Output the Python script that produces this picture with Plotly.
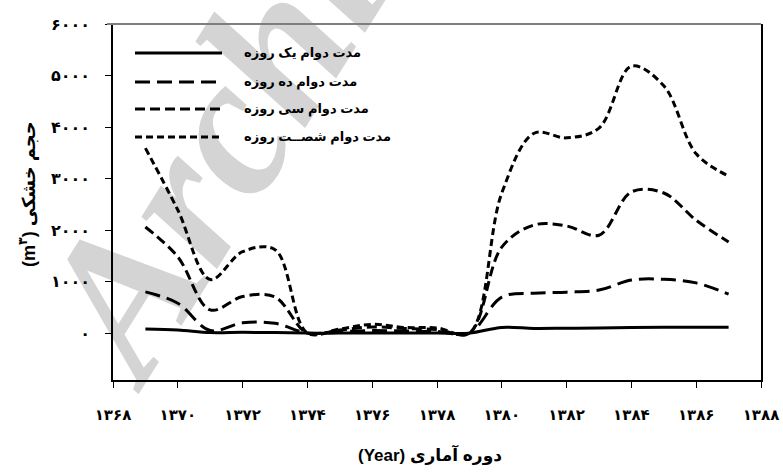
import plotly.graph_objects as go

years = [1369, 1370, 1371, 1372, 1373, 1374, 1375, 1376, 1377, 1378,
         1379, 1380, 1381, 1382, 1383, 1384, 1385, 1386, 1387]

one_day = [80, 60, 10, 15, 10, 0, 0, 0, 0, 0,
           0, 110, 90, 95, 100, 110, 115, 115, 115]
ten_day = [800, 580, 50, 200, 190, 0, 30, 50, 40, 30,
           0, 700, 775, 795, 835, 1030, 1045, 975, 755]
thirty_day = [2060, 1480, 450, 710, 700, 0, 60, 120, 90, 70,
              0, 1670, 2100, 2080, 1900, 2740, 2720, 2190, 1770]
sixty_day = [3590, 2390, 1040, 1580, 1620, 0, 80, 170, 110, 100,
             0, 2720, 3880, 3790, 3980, 5180, 4800, 3480, 3050]

series_names = ["مدت دوام یک روزه", "مدت دوام ده روزه",
                "مدت دوام سی روزه", "مدت دوام شصــت روزه"]
series_dash = ["solid", "15px,7px", "10px,5px", "7px,4px"]

x_ticks = [1368, 1370, 1372, 1374, 1376, 1378, 1380, 1382, 1384, 1386, 1388]
y_ticks = [0, 1000, 2000, 3000, 4000, 5000, 6000]

FA = str.maketrans("0123456789", "۰۱۲۳۴۵۶۷۸۹")
FONT = "Liberation Sans, DejaVu Sans, Arial"

W, H = 783, 472
# plot area in pixels
L, R, T, B = 113, 761, 24, 380


def px(x, y):
    return (x - L) / (R - L), (B - y) / (B - T)


fig = go.Figure()
for name, vals, dash in zip(series_names, [one_day, ten_day, thirty_day, sixty_day], series_dash):
    fig.add_trace(go.Scatter(
        x=years, y=vals, name=name, mode="lines",
        line=dict(color="black", width=3, dash=dash, shape="spline", smoothing=1),
        showlegend=False,
    ))

shapes = []
annotations = []

# watermark
wx0, wy0 = px(80, 319)
wx1, wy1 = px(398, -189)
shapes.append(dict(
    type="line", xref="paper", yref="paper", x0=wx0, y0=wy0, x1=wx1, y1=wy1,
    line=dict(width=0, color="rgba(0,0,0,0)"), layer="below",
    label=dict(text="<b><i>Archive</i></b>", textposition="middle", yanchor="middle",
               font=dict(size=200, color="#d4d4d4", family="Liberation Serif, DejaVu Serif")),
))

# top border (gray)
shapes.append(dict(type="line", xref="paper", yref="paper", x0=px(107, 0)[0], x1=1, y0=1, y1=1,
                   line=dict(color="#7f7f7f", width=2)))

# manual legend
legend_rows = [53, 82, 109, 137]
for name, dash, ry in zip(series_names, series_dash, legend_rows):
    lx0, ly = px(135, ry)
    lx1, _ = px(222, ry)
    shapes.append(dict(type="line", xref="paper", yref="paper", x0=lx0, x1=lx1, y0=ly, y1=ly,
                       line=dict(color="black", width=3, dash=dash)))
    tx, ty = px(242, ry)
    annotations.append(dict(xref="paper", yref="paper", x=tx, y=ty, text=f"<b>{name}</b>",
                            showarrow=False, xanchor="left", yanchor="middle",
                            font=dict(size=13, color="black", family=FONT)))

# axis titles
annotations.append(dict(xref="paper", yref="paper", x=px(430, 0)[0], y=px(0, 455)[1],
                        text="<b>(Year) دوره آماری</b>", showarrow=False,
                        xanchor="center", yanchor="middle",
                        font=dict(size=17, color="black", family=FONT)))
annotations.append(dict(xref="paper", yref="paper", x=px(28, 0)[0], y=px(0, 194)[1],
                        text="<b>(m<sup>۳</sup>) حجم خشکی</b>", showarrow=False, textangle=-90,
                        xanchor="center", yanchor="middle",
                        font=dict(size=18, color="black", family=FONT)))

fig.update_layout(
    width=W, height=H,
    margin=dict(l=L, r=W - R, t=T, b=H - B, autoexpand=False),
    paper_bgcolor="white", plot_bgcolor="white",
    font=dict(family=FONT, color="black"),
    shapes=shapes, annotations=annotations,
    showlegend=False,
)
fig.update_xaxes(
    range=[1368, 1388], tickvals=x_ticks, ticktext=[f"<b>{str(v).translate(FA)}</b>" for v in x_ticks],
    showline=True, linecolor="black", linewidth=1.5, ticks="outside", ticklen=6, tickcolor="black",
    showgrid=False, zeroline=False, ticklabelstandoff=14, tickfont=dict(size=15, family=FONT),
    automargin=False,
)
fig.update_yaxes(
    range=[-910, 6000], tickvals=y_ticks, ticktext=[f"<b>{str(v).translate(FA)}</b>" for v in y_ticks],
    showline=True, linecolor="black", linewidth=1.5, mirror=True, ticks="outside", ticklen=6,
    tickcolor="black", showgrid=False, zeroline=False, ticklabelstandoff=12,
    tickfont=dict(size=16, family=FONT), automargin=False,
)

# drop the browser's default body margin so the figure sits at the page corner
fig.write_html("out.html", config={"displayModeBar": False},
               post_script="document.body.style.margin='0';")
